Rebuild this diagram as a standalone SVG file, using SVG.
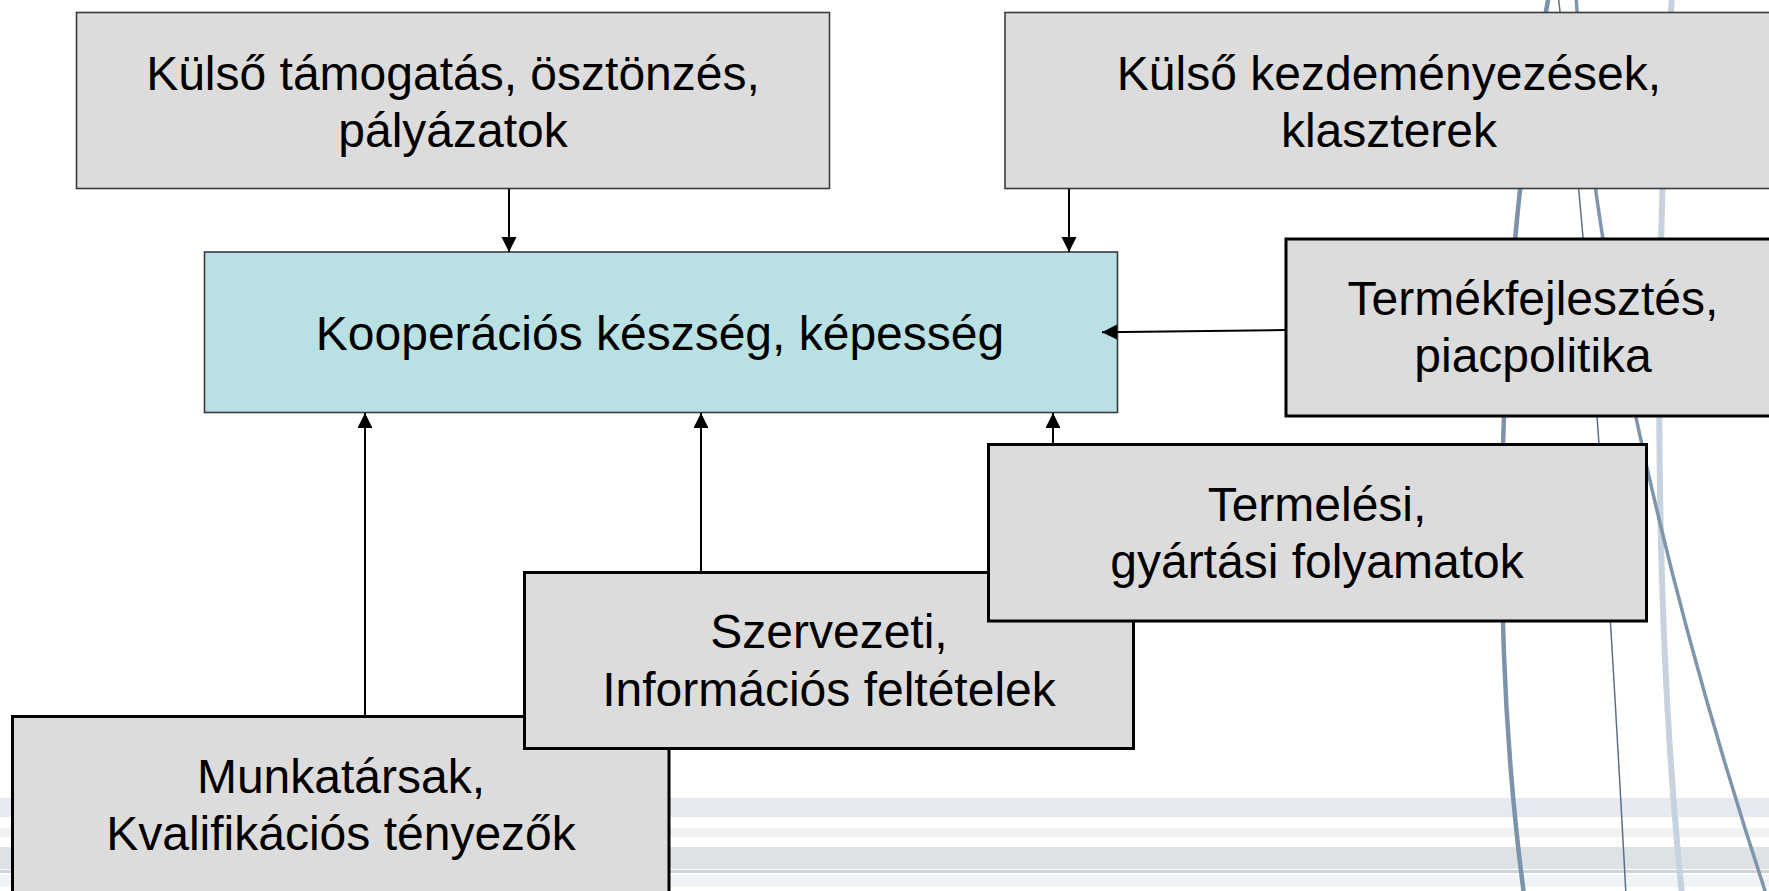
<svg xmlns="http://www.w3.org/2000/svg" width="1769" height="891" viewBox="0 0 1769 891">
  <defs>
    <style>
      .lbl { font-family: "Liberation Sans", Arial, sans-serif; font-size: 48px; fill: #000; text-anchor: middle; }
      .outer { fill: #dcdcdc; stroke: #3a3a3a; stroke-width: 1.6; }
      .inner { fill: #dcdcdc; stroke: #000; stroke-width: 3; }
      .core { fill: #b9e0e3; stroke: #3a3a3a; stroke-width: 1.6; }
      .link { stroke: #000; stroke-width: 2; fill: none; marker-end: url(#head); }
      .band { stroke: none; }
    </style>
    <marker id="head" markerUnits="userSpaceOnUse" markerWidth="16" markerHeight="16" refX="15" refY="7.5" orient="auto">
      <path d="M0,0 L15,7.5 L0,15 Z" fill="#000"/>
    </marker>
  </defs>

  <rect width="1769" height="891" fill="#ffffff"/>

  <!-- background: horizontal bands along the bottom -->
  <g id="bands">
    <rect class="band" x="0" y="798" width="1769" height="19" fill="#e6e9ef"/>
    <rect class="band" x="0" y="828" width="1769" height="9" fill="#f1f3f1"/>
    <rect class="band" x="0" y="847" width="1769" height="22" fill="#dde2e7"/>
    <rect class="band" x="0" y="870" width="1769" height="3" fill="#cdd3d9"/>
    <rect class="band" x="0" y="875" width="1769" height="12" fill="#eef3f6"/>
  </g>

  <!-- background: sweeping strokes on the right -->
  <g id="sweeps" fill="none">
    <path d="M1672,-5 C1655,250 1652,600 1682,895" stroke="#c6d2dd" stroke-width="6"/>
    <path d="M1549,-5 C1500,250 1485,600 1524,895" stroke="#7d93ab" stroke-width="4.5"/>
    <path d="M1558,-5 C1590,250 1610,600 1626,895" stroke="#5a7088" stroke-width="1.5"/>
    <path d="M1576,-5 C1585,150 1620,450 1768,900" stroke="#7f95ac" stroke-width="3.5"/>
  </g>

  <g id="n-tamogatas">
    <rect class="outer" x="76.5" y="12.5" width="753" height="176"/>
    <text class="lbl" x="453" y="90">Külső támogatás, ösztönzés,</text>
    <text class="lbl" x="453" y="147">pályázatok</text>
  </g>

  <g id="n-kezdemenyezesek">
    <rect class="outer" x="1005" y="12.5" width="775" height="176"/>
    <text class="lbl" x="1389" y="90">Külső kezdeményezések,</text>
    <text class="lbl" x="1389" y="147">klaszterek</text>
  </g>

  <g id="n-kooperacio">
    <rect class="core" x="204.5" y="252" width="913" height="160.5"/>
    <text class="lbl" x="660" y="350">Kooperációs készség, képesség</text>
  </g>

  <g id="n-termekfejlesztes">
    <rect class="inner" x="1286" y="239" width="500" height="177"/>
    <text class="lbl" x="1533" y="315">Termékfejlesztés,</text>
    <text class="lbl" x="1533" y="372">piacpolitika</text>
  </g>

  <g id="n-munkatarsak">
    <rect class="inner" x="12.5" y="716.5" width="656.5" height="190"/>
    <text class="lbl" x="341" y="793">Munkatársak,</text>
    <text class="lbl" x="341" y="850">Kvalifikációs tényezők</text>
  </g>

  <g id="n-szervezeti">
    <rect class="inner" x="524.5" y="572.5" width="609" height="176"/>
    <text class="lbl" x="829" y="648">Szervezeti,</text>
    <text class="lbl" x="829" y="706">Információs feltételek</text>
  </g>

  <g id="n-termelesi">
    <rect class="inner" x="988.5" y="444.5" width="658" height="176.5"/>
    <text class="lbl" x="1317" y="521">Termelési,</text>
    <text class="lbl" x="1317" y="578">gyártási folyamatok</text>
  </g>

  <g id="connectors">
    <line class="link" x1="509" y1="189" x2="509" y2="252"/>
    <line class="link" x1="1069" y1="189" x2="1069" y2="252"/>
    <line class="link" x1="1285" y1="330" x2="1102" y2="332.3"/>
    <line class="link" x1="365" y1="715" x2="365" y2="413"/>
    <line class="link" x1="701" y1="571" x2="701" y2="413"/>
    <line class="link" x1="1053" y1="443" x2="1053" y2="413"/>
  </g>
</svg>
